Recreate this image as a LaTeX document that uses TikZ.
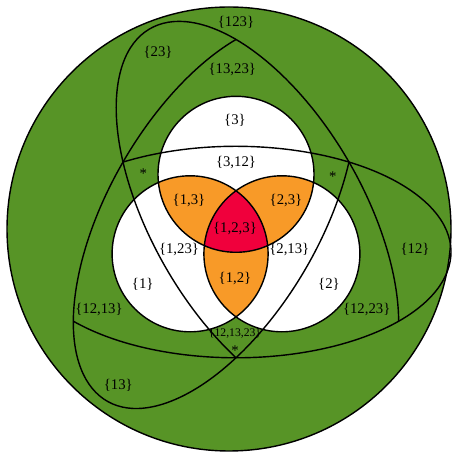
\documentclass[tikz,border=0pt]{standalone}
\usepackage{fontspec}
\setmainfont{Liberation Serif}
\definecolor{setgreen}{RGB}{87,148,38}
\definecolor{setorange}{RGB}{248,154,40}
\definecolor{setred}{RGB}{240,0,60}

\begin{document}
\begin{tikzpicture}[x=0.25mm,y=0.25mm,line width=1pt,
  lbl/.style={inner sep=0pt,font=\fontsize{10.5}{12}\selectfont},
  tinylbl/.style={inner sep=0pt,font=\fontsize{8.3}{10}\selectfont}]
\useasboundingbox (0,0) rectangle (457,457);
\coordinate (O) at (236,229.7);
\coordinate (c1) at (190.1,203.2);
\coordinate (c2) at (281.9,203.2);
\coordinate (c3) at (236,282.7);
\filldraw[fill=setgreen] (229,228) circle (222);
\foreach \c in {c1,c2,c3}{\fill[white] (\c) circle (78);}
\foreach \a/\b in {c1/c2,c1/c3,c2/c3}{
  \begin{scope}
    \clip (\a) circle (78);
    \fill[setorange] (\b) circle (78);
  \end{scope}
}
\begin{scope}
  \clip (c1) circle (78);
  \clip (c2) circle (78);
  \fill[setred] (c3) circle (78);
\end{scope}
\foreach \c in {c1,c2,c3}{\draw (\c) circle (78);}
\foreach \r in {0,120,240}{
  \begin{scope}[shift={(O)},rotate=\r,shift={(0,-24.75)}]
    \draw (121.71:215 and 105.75) arc[start angle=121.71,end angle=-139.15,x radius=215,y radius=105.75];
  \end{scope}
}
\node[lbl] (s123) at (236,434.3) {\{123\}};
\node[lbl] (s23) at (158,404.3) {\{23\}};
\node[lbl] (s1323) at (232.3,387) {\{13,23\}};
\node[lbl] (s3) at (235,337) {\{3\}};
\node[lbl] (s312) at (236,294.7) {\{3,12\}};
\node[lbl] (sl) at (143.3,283.5) {*};
\node[lbl] (sr) at (332.7,280.2) {*};
\node[lbl] (sb) at (235,106.2) {*};
\node[lbl] (s13) at (189,256) {\{1,3\}};
\node[lbl] (s23b) at (286,256) {\{2,3\}};
\node[lbl] (s123b) at (235,228.7) {\{1,2,3\}};
\node[lbl] (s1x23) at (179,207.7) {\{1,23\}};
\node[lbl] (s2x13) at (289.3,207.7) {\{2,13\}};
\node[lbl] (s12b) at (235,178.7) {\{1,2\}};
\node[lbl] (s1) at (142.7,173) {\{1\}};
\node[lbl] (s2) at (329,173) {\{2\}};
\node[lbl] (s12) at (415,207.7) {\{12\}};
\node[lbl] (s1213) at (99,147) {\{12,13\}};
\node[lbl] (s1223) at (366.7,147) {\{12,23\}};
\node[tinylbl] (s121323) at (235,123.7) {\{12,13,23\}};
\node[lbl] (s13b) at (118.3,72) {\{13\}};
\end{tikzpicture}
\end{document}
